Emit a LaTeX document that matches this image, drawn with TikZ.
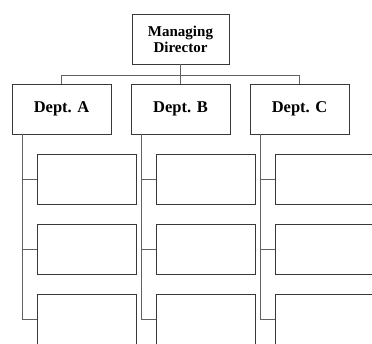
\documentclass[tikz,border=0pt]{standalone}
\usepackage{fontspec}
\setmainfont{Liberation Serif}
\begin{document}
\begin{tikzpicture}[x=1pt,y=-1pt,
  box/.style={draw=black!78,line width=0.9pt,fill=white,rectangle,inner sep=0pt,
    minimum width=99pt,minimum height=50pt,align=center},
  deptbox/.style={box,font=\bfseries\fontsize{16.5}{18}\selectfont},
  topbox/.style={box,minimum width=97pt,font=\bfseries\fontsize{15}{16}\selectfont},
  link/.style={draw=black!62,line width=0.8pt}]
  \clip (0,0) rectangle (372,343);
  \fill[white] (0,0) rectangle (372,343);

  % top of the chart
  \node[topbox] (md) at (180.5,39) {Managing\\Director};
  \node[deptbox] (da) at (61.5,109) {Dept. A};
  \node[deptbox] (db) at (180.5,109) {Dept. B};
  \node[deptbox] (dc) at (299.5,109) {Dept. C};
  \coordinate (bus) at (180.5,75);

  % units under each department
  \foreach \d/\x in {a/86.5,b/205.5,c/324.5}{
    \node[box] (\d1) at (\x,179) {};
    \node[box] (\d2) at (\x,249) {};
    \node[box] (\d3) at (\x,319) {};
  }

  % connectors from the director to the departments
  \draw[link] (md.south) -- (bus);
  \draw[link] (da.north) -- (da.north |- bus) -- (dc.north |- bus) -- (dc.north);
  \draw[link] (db.north) -- (db.north |- bus);

  % connectors from each department down to its units
  \foreach \d in {a,b,c}{
    \draw[link] ([xshift=11pt]d\d.south west) coordinate (t\d) |- (\d3.west);
    \draw[link] (t\d |- \d1.west) -- (\d1.west);
    \draw[link] (t\d |- \d2.west) -- (\d2.west);
  }
\end{tikzpicture}
\end{document}
